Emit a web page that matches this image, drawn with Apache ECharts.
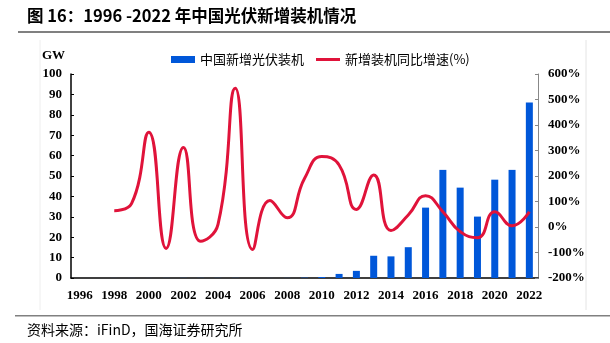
<!DOCTYPE html>
<html><head><meta charset="utf-8">
<script src="https://cdn.jsdelivr.net/npm/echarts@6/dist/echarts.min.js"></script>
<style>html,body{margin:0;padding:0;background:#fff;}#c{width:610px;height:343px;}</style>
</head><body><div id="c"></div>
<script>
const years = ['1996','1997','1998','1999','2000','2001','2002','2003','2004','2005','2006','2007','2008','2009','2010','2011','2012','2013','2014','2015','2016','2017','2018','2019','2020','2021','2022'];
const newCapacityGW = [0.01,0.01,0.02,0.02,0.02,0.03,0.05,0.05,0.05,0.05,0.01,0.02,0.04,0.16,0.5,2,3.5,10.9,10.6,15.1,34.5,53,44.3,30.1,48.2,53,86];
const growthPct = ['-','-',64,92,372,-84,312,-56,10,544,-88,104,36,190,276,243,69,204,-14,47,123,60,-18,-42,60,5,60];
const leftTicks = [0,100,10];
const rightTicks = [-200,600,100];

const chart = echarts.init(document.getElementById('c'));
const axisFont = {fontFamily:'Liberation Serif', fontWeight:'bold', fontSize:13, color:'#000'};
chart.setOption({
  animation:false,
  grid:{left:71,right:72,top:74,bottom:65},
  legend:{
    top:48, left:166, itemGap:12,
    textStyle:{fontFamily:'Noto Sans CJK SC', fontSize:13, color:'#000'},
    data:[
      {name:'中国新增光伏装机', icon:'rect', itemStyle:{color:'#0057D9'}},
      {name:'新增装机同比增速(%)', icon:'path://M0,0 L24,0 L24,3 L0,3 Z', itemStyle:{color:'#E0133A'}}
    ],
    itemWidth:24, itemHeight:7
  },
  xAxis:{
    type:'category', data:years,
    axisLine:{lineStyle:{color:'#000',width:1.5}},
    axisTick:{show:false},
    axisLabel:Object.assign({interval:1, margin:11}, axisFont)
  },
  yAxis:[
    {type:'value', min:leftTicks[0], max:leftTicks[1], interval:leftTicks[2],
     name:'GW', nameLocation:'end', nameGap:12,
     nameTextStyle:Object.assign({align:'right', padding:[0,6,0,0]}, axisFont),
     axisLine:{show:true, lineStyle:{color:'#000',width:1.5}},
     axisTick:{show:true, inside:true, length:3, lineStyle:{color:'#000'}},
     splitLine:{show:false},
     axisLabel:Object.assign({margin:9}, axisFont)},
    {type:'value', min:rightTicks[0], max:rightTicks[1], interval:rightTicks[2],
     position:'right',
     axisLine:{show:true, lineStyle:{color:'#888',width:1}},
     axisTick:{show:true, inside:true, length:3, lineStyle:{color:'#888'}},
     splitLine:{show:false},
     axisLabel:Object.assign({margin:10, formatter:'{value}%'}, axisFont)}
  ],
  series:[
    {name:'中国新增光伏装机', type:'bar', data:newCapacityGW, yAxisIndex:0,
     barWidth:7, itemStyle:{color:'#0057D9'}},
    {name:'新增装机同比增速(%)', type:'line', data:growthPct, yAxisIndex:1,
     smooth:0.5, symbol:'none', lineStyle:{color:'#E0133A', width:3},
     itemStyle:{color:'#E0133A'}}
  ],
  graphic:[
    {type:'text', left:27, top:7, style:{text:'图 16：1996 -2022 年中国光伏新增装机情况', font:'bold 16.5px "Noto Sans CJK SC"', fill:'#000'}},
    {type:'rect', shape:{x:18, y:31, width:592, height:2}, style:{fill:'#808080'}},
    {type:'rect', shape:{x:15, y:315, width:595, height:1.5}, style:{fill:'#808080'}},
    {type:'line', shape:{x1:40, y1:40, x2:40, y2:310}, style:{stroke:'#eeeeee', lineWidth:1}},
    {type:'line', shape:{x1:586, y1:40, x2:586, y2:310}, style:{stroke:'#e4e4e4', lineWidth:1}},
    {type:'text', left:27, top:323, style:{text:'资料来源：iFinD，国海证券研究所', font:'14px "Noto Sans CJK SC"', fill:'#000'}}
  ]
});
</script></body></html>
